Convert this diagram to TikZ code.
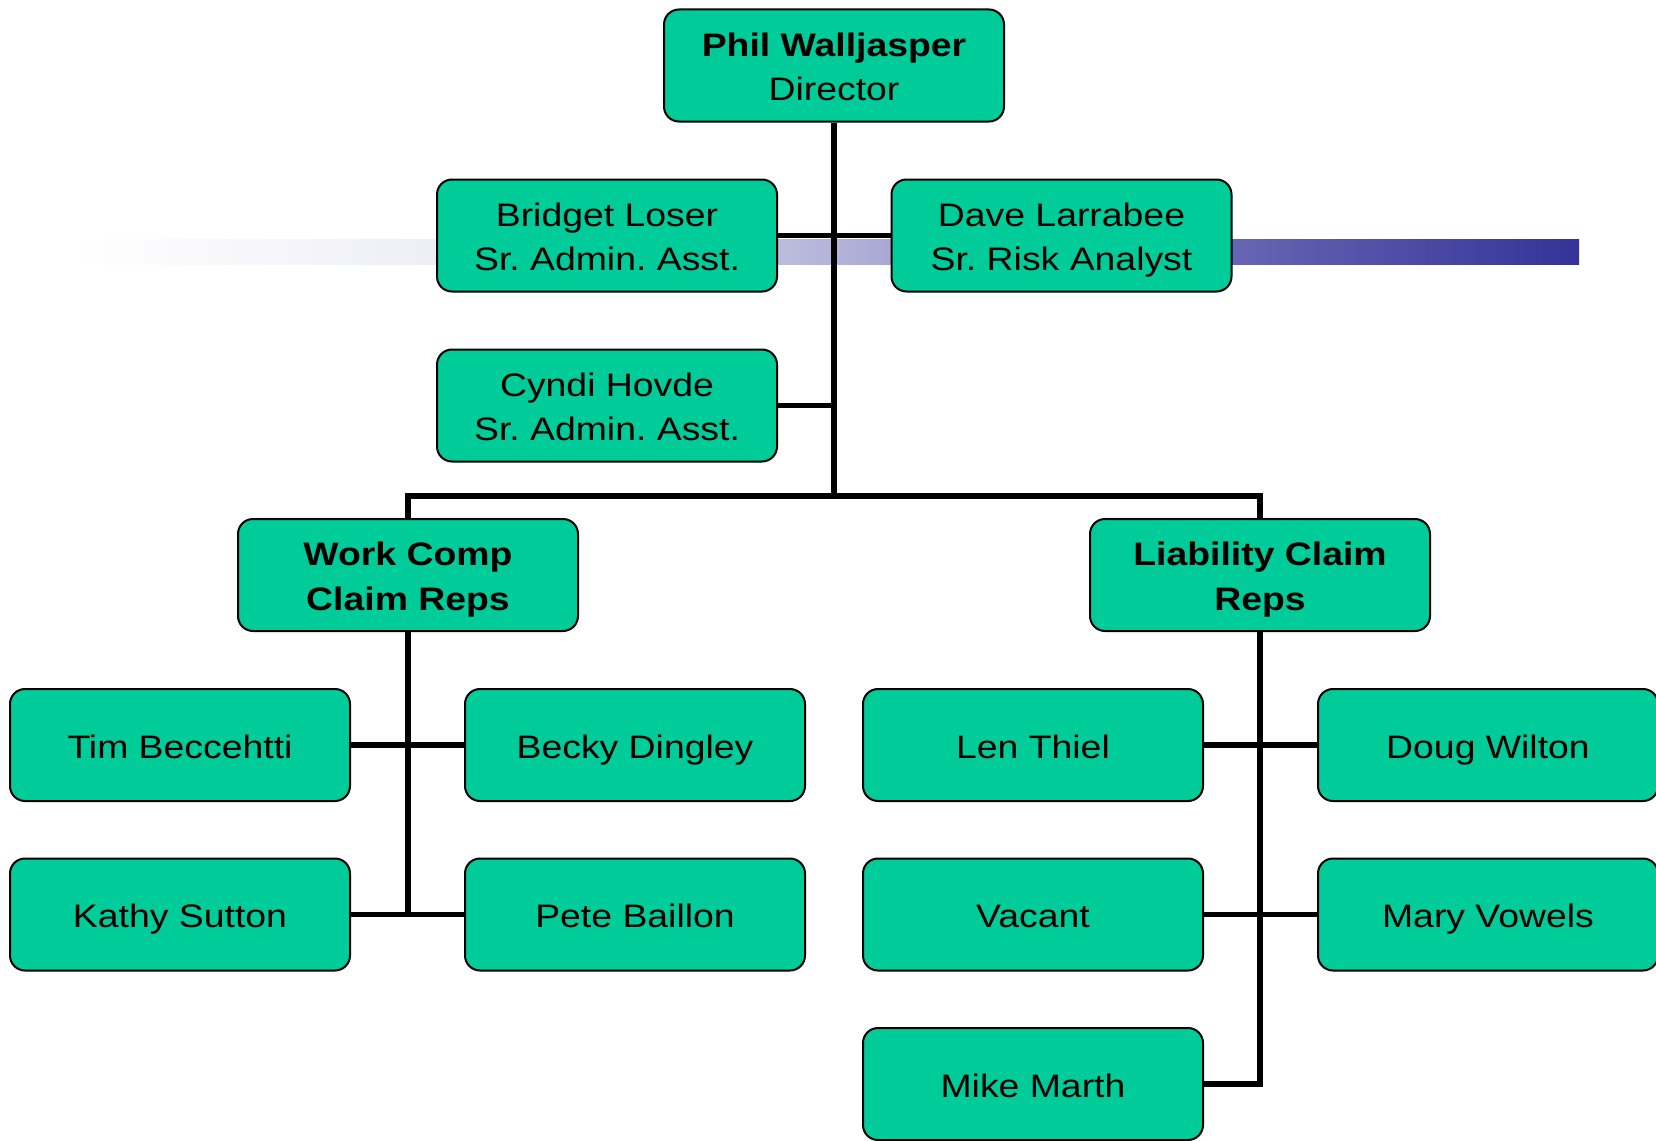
\documentclass[tikz,border=0pt]{standalone}
\usepackage{fontspec}
\setmainfont{Liberation Sans}[FakeStretch=1.15]
\definecolor{boxgreen}{HTML}{00CC99}
\definecolor{bblue}{RGB}{51,51,153}
\newcommand{\mystrut}{\rule[-6.7pt]{0pt}{39.7pt}}
\pgfdeclarelayer{bottom}
\pgfdeclarelayer{lines}
\pgfsetlayers{bottom,lines,main}
\tikzset{
  orgbox/.style={draw=black, line width=2pt, fill=boxgreen, rounded corners=15pt,
    minimum width=340pt, minimum height=112pt, inner sep=0pt, align=center,
    font=\fontsize{32.5pt}{44.5pt}\selectfont\frenchspacing},
  conn/.style={draw=black, line width=5.5pt, line join=miter}
}
\begin{document}
\begin{tikzpicture}[x=1pt,y=-1pt]
\useasboundingbox (0,0) rectangle (1656,1140);
\begin{pgfonlayer}{bottom}
\fill[white] (0,0) rectangle (1656,1140);
% gradient bar
\shade[left color=white, right color=bblue!8.5!white] (69,239) rectangle (437.5,264);
\shade[left color=bblue!8.5!white, right color=bblue!37!white] (437,239) rectangle (834.5,264);
\shade[left color=bblue!37!white, right color=bblue!75!white] (834,239) rectangle (1232.5,264);
\shade[left color=bblue!75!white, right color=bblue] (1232,239) rectangle (1579,264);
\end{pgfonlayer}
% nodes
\node[orgbox] (phil) at (834,65.5) {\mystrut\textbf{Phil Walljasper}\\\mystrut Director};
\node[orgbox] (bridget) at (607,235.5) {\mystrut Bridget Loser\\\mystrut Sr. Admin. Asst.};
\node[orgbox] (dave) at (1061.5,235.5) {\mystrut Dave Larrabee\\\mystrut Sr. Risk Analyst};
\node[orgbox] (cyndi) at (607,405.5) {\mystrut Cyndi Hovde\\\mystrut Sr. Admin. Asst.};
\node[orgbox] (wc) at (408,575) {\mystrut\textbf{Work Comp}\\\mystrut\textbf{Claim Reps}};
\node[orgbox] (liab) at (1260,575) {\mystrut\textbf{Liability Claim}\\\mystrut\textbf{Reps}};
\node[orgbox] (tim) at (180,745) {\mystrut Tim Beccehtti};
\node[orgbox] (becky) at (635,745) {\mystrut Becky Dingley};
\node[orgbox] (kathy) at (180,914.5) {\mystrut Kathy Sutton};
\node[orgbox] (pete) at (635,914.5) {\mystrut Pete Baillon};
\node[orgbox] (len) at (1033,745) {\mystrut Len Thiel};
\node[orgbox] (doug) at (1488,745) {\mystrut Doug Wilton};
\node[orgbox] (vacant) at (1033,914.5) {\mystrut Vacant};
\node[orgbox] (mary) at (1488,914.5) {\mystrut Mary Vowels};
\node[orgbox] (mike) at (1033,1084) {\mystrut Mike Marth};
\coordinate (busC) at (834,496);
% connectors (behind boxes)
\begin{pgfonlayer}{lines}
\draw[conn] (phil) -- (phil |- busC);
\draw[conn] (wc) |- (busC) -| (liab);
\draw[conn] (bridget) -- (dave);
\draw[conn] (cyndi) -- (cyndi -| phil);
\draw[conn] (wc) -- (wc |- kathy);
\draw[conn] (tim) -- (becky);
\draw[conn] (kathy) -- (pete);
\draw[conn] (liab) |- (mike);
\draw[conn] (len) -- (doug);
\draw[conn] (vacant) -- (mary);
\end{pgfonlayer}
\end{tikzpicture}
\end{document}
